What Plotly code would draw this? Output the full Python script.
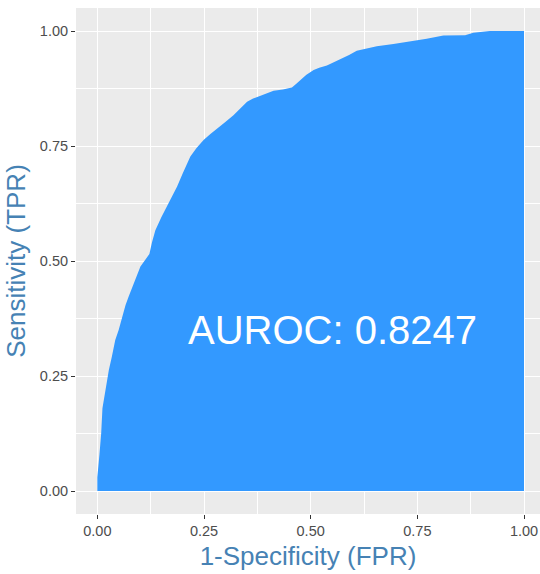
import plotly.graph_objects as go

fpr = [0.0, 0.0, 0.005, 0.009, 0.012, 0.017, 0.021, 0.027, 0.034, 0.042, 0.050, 0.058,
       0.066, 0.073, 0.085, 0.101, 0.112, 0.122, 0.128, 0.136, 0.150, 0.163, 0.175,
       0.187, 0.200, 0.218, 0.232, 0.249, 0.265, 0.280, 0.300, 0.319, 0.335, 0.351,
       0.365, 0.382, 0.400, 0.413, 0.435, 0.456, 0.465, 0.475, 0.490, 0.507, 0.520,
       0.538, 0.557, 0.577, 0.590, 0.608, 0.630, 0.655, 0.694, 0.733, 0.772, 0.811,
       0.862, 0.881, 0.920, 1.0]
tpr = [0.0, 0.03, 0.08, 0.125, 0.18, 0.21, 0.23, 0.263, 0.292, 0.328, 0.350, 0.379,
       0.404, 0.422, 0.452, 0.488, 0.502, 0.515, 0.54, 0.567, 0.595, 0.618, 0.640,
       0.662, 0.69, 0.727, 0.745, 0.763, 0.776, 0.788, 0.802, 0.817, 0.832, 0.846,
       0.853, 0.859, 0.866, 0.870, 0.873, 0.877, 0.884, 0.893, 0.905, 0.915, 0.920,
       0.925, 0.933, 0.941, 0.948, 0.957, 0.962, 0.967, 0.972, 0.977, 0.983, 0.990,
       0.991, 0.996, 1.0, 1.0]
tick_vals = [0.0, 0.25, 0.5, 0.75, 1.0]
tick_text = ["0.00", "0.25", "0.50", "0.75", "1.00"]
auroc_label = "AUROC: 0.8247"
auroc_pos = (0.55, 0.35)

FONT = "Liberation Sans, Arial, sans-serif"

fig = go.Figure()
fig.add_trace(go.Scatter(
    x=fpr, y=tpr, mode="lines", fill="tozeroy",
    fillcolor="#3399FF", line=dict(width=0, color="#3399FF"),
    hoverinfo="skip", showlegend=False,
))

fig.add_annotation(
    x=auroc_pos[0], y=auroc_pos[1], text=auroc_label, showarrow=False,
    font=dict(family=FONT, size=40, color="white"),
    xanchor="center", yanchor="middle",
)

axis_common = dict(
    showgrid=True, gridcolor="white", gridwidth=1.1,
    zeroline=False, showline=False,
    ticks="outside", ticklen=4, tickwidth=1.1, tickcolor="#333333",
    tickvals=tick_vals, ticktext=tick_text,
    tickfont=dict(family=FONT, size=14.5, color="#4D4D4D"),
    minor=dict(tickvals=[0.125, 0.375, 0.625, 0.875], showgrid=True,
               gridcolor="white", gridwidth=0.55, ticks=""),
)

fig.update_xaxes(
    range=[-0.05, 1.0375], **axis_common,
    title=dict(text="1-Specificity (FPR)", standoff=8,
               font=dict(family=FONT, size=26, color="#4682B4")),
)
fig.update_yaxes(
    range=[-0.05, 1.05], **axis_common,
    title=dict(text="Sensitivity (TPR)", standoff=6,
               font=dict(family=FONT, size=26, color="#4682B4")),
)

fig.update_layout(
    width=540, height=574,
    margin=dict(l=76, r=0, t=8, b=60),
    plot_bgcolor="#EBEBEB", paper_bgcolor="white",
)

fig.write_html(
    "out.html",
    config={"displayModeBar": False},
    post_script="document.body.style.margin='0';"
                "document.documentElement.style.overflow='hidden';"
                "document.body.style.overflow='hidden';",
)
